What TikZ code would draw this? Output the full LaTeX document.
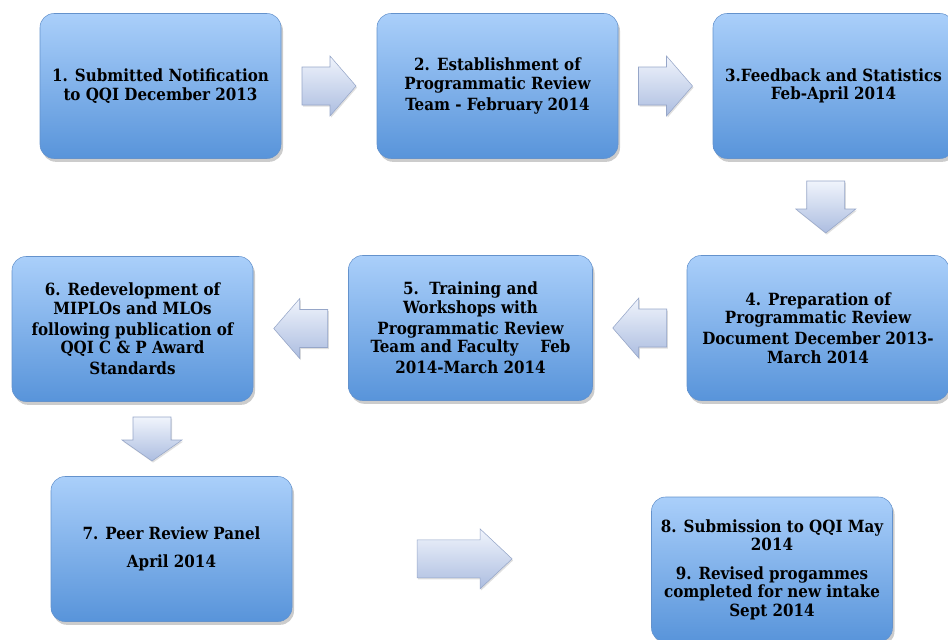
\documentclass[tikz,border=0pt]{standalone}
\usepackage{fontspec}
\newfontfamily\stagefont{DejaVu Serif Condensed Bold}
\usetikzlibrary{shadows,calc}
\definecolor{stagetop}{RGB}{170,207,250}
\definecolor{stagebottom}{RGB}{88,148,218}
\definecolor{stageedge}{RGB}{100,146,204}
\definecolor{arrowtop}{RGB}{240,244,252}
\definecolor{arrowbottom}{RGB}{172,189,224}
\definecolor{arrowedge}{RGB}{150,166,200}

\tikzset{
    pics/flowarrow/.style n args={2}{code={
        % #1 = length, #2 = head length (px)
        \path[flowfill] (-#1/2,-19) -- (#1/2-#2,-19) -- (#1/2-#2,-30) -- (#1/2,0)
            -- (#1/2-#2,30) -- (#1/2-#2,19) -- (-#1/2,19) -- cycle;
    }}
}

\begin{document}
\begin{tikzpicture}[x=0.75pt, y=-0.75pt]
    \tikzstyle{stage} = [rectangle, rounded corners=10.5pt, draw=stageedge, top color=stagetop, bottom color=stagebottom,
        minimum width=180.75pt, minimum height=108.75pt, inner sep=2pt, align=center,
        font=\stagefont\fontsize{12.6}{13.8}\selectfont,
        drop shadow={shadow xshift=1.5pt, shadow yshift=-2.5pt, opacity=0.4}]
    \tikzstyle{flowfill} = [draw=arrowedge, thin, top color=arrowtop, bottom color=arrowbottom,
        drop shadow={shadow xshift=0.8pt, shadow yshift=-1.2pt, opacity=0.25}]

    \useasboundingbox (0,0) rectangle (948,639);

    % top row
    \node[stage] (submit) at (160.5,86) {1. Submitted Notification\\to QQI December 2013};
    \node[stage] (team) at (497.5,86) {2. Establishment of\\Programmatic Review\\[2pt]Team - February 2014};
    \node[stage] (feedback) at (833.5,86) {3.Feedback and Statistics\\Feb-April 2014};

    % middle row
    \node[stage, minimum width=196.5pt] (document) at (818,328)
        {4. Preparation of\\Programmatic Review\\[2pt]Document December 2013-\\March 2014};
    \node[stage, minimum width=183pt] (training) at (470.5,328)
        {5.\ \ Training and\\Workshops with\\[2pt]Programmatic Review\\Team and Faculty\quad\ Feb\\[2pt]2014-March 2014};
    \node[stage] (redevelop) at (132.5,329)
        {6. Redevelopment of\\MIPLOs and MLOs\\[2pt]following publication of\\QQI C \& P Award\\[2pt]Standards};

    % bottom row
    \node[stage] (peer) at (171.5,549) {7. Peer Review Panel\\[7pt]April 2014};
    \node[stage] (submission) at (772,569.5)
        {8. Submission to QQI May\\2014\\[8pt]9. Revised progammes\\completed for new intake\\Sept 2014};

    % block arrows
    \pic at ($(submit.east)!0.5!(team.west)$) {flowarrow={54}{26}};
    \pic at ($(team.east)!0.5!(feedback.west)$) {flowarrow={54}{26}};
    \pic[rotate=-90] at ($(feedback.south)!0.5!(document.north)$) {flowarrow={52}{24}};
    \pic[rotate=180] at ($(document.west)!0.5!(training.east)$) {flowarrow={54}{26}};
    \pic[rotate=180] at ($(training.west)!0.5!(redevelop.east)$) {flowarrow={54}{26}};
    \pic[rotate=-90] at ($(redevelop.south)!0.5!(peer.north)$) {flowarrow={44}{21}};
    \pic at ($(peer.east)!0.48!(submission.west)$) {flowarrow={95}{32}};
\end{tikzpicture}
\end{document}
